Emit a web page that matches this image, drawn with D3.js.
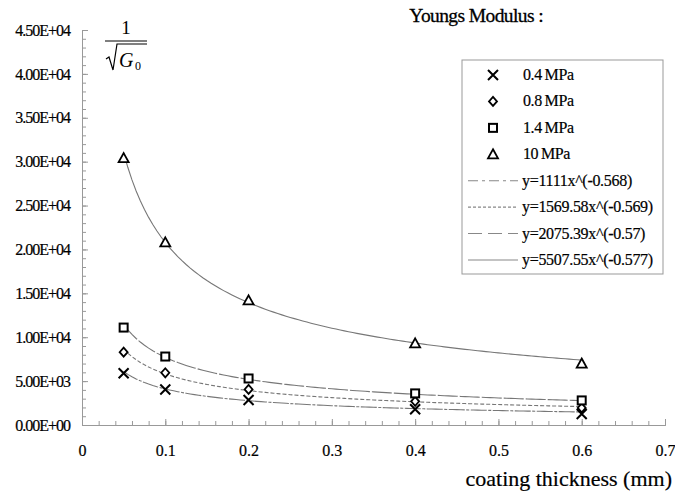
<!DOCTYPE html>
<html>
<head>
<meta charset="utf-8">
<script src="https://cdn.jsdelivr.net/npm/d3@7"></script>
<style>
  body { margin: 0; background: #fff; }
  text { font-family: "Liberation Serif", "Times New Roman", serif; fill: #000; }
</style>
</head>
<body>
<script>
// data
const thickness = [0.05, 0.1, 0.2, 0.4, 0.6];
const mpa04 = [5900, 4050, 2850, 1800, 1250];
const mpa08 = [8300, 5950, 4050, 2700, 1950];
const mpa14 = [11100, 7800, 5300, 3600, 2800];
const mpa10 = [30400, 20800, 14200, 9300, 7000];

const seriesNames = ['0.4 MPa', '0.8 MPa', '1.4 MPa', '10 MPa'];
const fitLabels = ['y=1111x^(-0.568)', 'y=1569.58x^(-0.569)', 'y=2075.39x^(-0.57)', 'y=5507.55x^(-0.577)'];
// power trendline coefficients as printed in the legend
const fitA = [1111, 1569.58, 2075.39, 5507.55];
const fitB = [-0.568, -0.569, -0.57, -0.577];

const xTickValues = [0, 0.1, 0.2, 0.3, 0.4, 0.5, 0.6, 0.7];
const xTickLabels = ['0', '0.1', '0.2', '0.3', '0.4', '0.5', '0.6', '0.7'];
const yTickValues = [0, 5000, 10000, 15000, 20000, 25000, 30000, 35000, 40000, 45000];

let width = 675, height = 492;

let svg = d3.select('body').append('svg')
    .attr('width', width)
    .attr('height', height);

let x = d3.scaleLinear().domain([0, 0.7]).range([82, 665]);
let y = d3.scaleLinear().domain([0, 45000]).range([425, 30]);

const axisColor = '#999';

// y axis: minor ticks, major ticks, labels
svg.append('g')
    .attr('transform', `translate(${x(0)},0)`)
    .call(d3.axisRight(y).tickValues(d3.range(0, 45001, 1000)).tickSize(4).tickFormat(''));
svg.append('g')
    .attr('transform', `translate(${x(0)},0)`)
    .call(d3.axisRight(y).tickValues(yTickValues).tickSize(6).tickFormat(''));
let yLabels = svg.append('g')
    .attr('transform', `translate(${x(0)},0)`)
    .call(d3.axisLeft(y).tickValues(yTickValues).tickSize(0).tickPadding(12)
        .tickFormat(d => {
            let s = d.toExponential(2).toUpperCase();
            return s.replace(/E([+-])(\d)$/, 'E$10$2');
        }));

// x axis
svg.append('g')
    .attr('transform', `translate(0,${y(0)})`)
    .call(d3.axisTop(x).tickValues(d3.range(0, 36).map(i => i * 0.02)).tickSize(4).tickFormat(''));
svg.append('g')
    .attr('transform', `translate(0,${y(0)})`)
    .call(d3.axisTop(x).tickValues(xTickValues).tickSize(6).tickFormat(''));
let xLabels = svg.append('g')
    .attr('transform', `translate(0,${y(0)})`)
    .call(d3.axisBottom(x).tickValues(xTickValues).tickSize(0).tickPadding(20)
        .tickFormat((d, i) => xTickLabels[i]));

svg.selectAll('.domain').attr('stroke', axisColor);
svg.selectAll('.tick line').attr('stroke', axisColor);
yLabels.select('.domain').remove();
xLabels.select('.domain').remove();

yLabels.selectAll('text')
    .attr('font-family', 'Liberation Serif')
    .attr('font-size', '16px')
    .attr('letter-spacing', '-1px')
    .attr('stroke', '#000').attr('stroke-width', 0.2)
    .attr('fill', '#000');
xLabels.selectAll('text')
    .attr('font-family', 'Liberation Serif')
    .attr('font-size', '16px')
    .attr('stroke', '#000').attr('stroke-width', 0.2)
    .attr('fill', '#000');

// trend curves (dashes look almost solid in the plot, clearer in the legend)
const plotDashes = ['16,1.5,3,1.5', '4,2', '20,2', null];
const legendDashes = ['10,4,3,4', '3,2', '14,6', null];
let line = d3.line().x(d => x(d[0])).y(d => y(d[1]));
let curveX = d3.range(0, 111).map(i => 0.05 + i * 0.005);
fitA.forEach((a, k) => {
    let pts = curveX.map(t => [t, a * Math.pow(t, fitB[k])]);
    svg.append('path')
        .attr('d', line(pts))
        .attr('fill', 'none')
        .attr('stroke', '#777')
        .attr('stroke-width', 1.1)
        .attr('stroke-dasharray', plotDashes[k]);
});

// markers
function drawMarker(g, kind) {
    if (kind === 0) {
        g.append('path').attr('d', 'M-5,-5L5,5M-5,5L5,-5')
            .attr('stroke', '#000').attr('stroke-width', 2).attr('fill', 'none');
    } else if (kind === 1) {
        g.append('path').attr('d', 'M0,-4.5L4,0L0,4.5L-4,0Z')
            .attr('stroke', '#000').attr('stroke-width', 1.8).attr('fill', '#fff');
    } else if (kind === 2) {
        g.append('rect').attr('x', -4).attr('y', -4).attr('width', 8).attr('height', 8)
            .attr('stroke', '#000').attr('stroke-width', 2).attr('fill', '#fff');
    } else {
        g.append('path').attr('d', 'M0,-5L5,4L-5,4Z')
            .attr('stroke', '#000').attr('stroke-width', 1.8).attr('fill', '#fff');
    }
}

[mpa04, mpa08, mpa14, mpa10].forEach((vals, k) => {
    svg.selectAll(null)
        .data(vals)
        .enter().append('g')
        .attr('transform', (d, i) => `translate(${x(thickness[i])},${y(d)})`)
        .each(function () { drawMarker(d3.select(this), k); });
});

// legend
let legend = svg.append('g');
legend.append('rect')
    .attr('x', 462).attr('y', 60).attr('width', 201).attr('height', 214)
    .attr('fill', '#fff').attr('stroke', '#999').attr('stroke-width', 1);

let rowY = d3.scaleLinear().domain([0, 7]).range([75, 260]);
seriesNames.forEach((name, k) => {
    let g = legend.append('g').attr('transform', `translate(493,${rowY(k)})`);
    drawMarker(g, k);
    legend.append('text')
        .attr('x', 523).attr('y', rowY(k) + 5)
        .attr('font-size', '16px')
        .attr('letter-spacing', '-0.4px')
        .attr('stroke', '#000').attr('stroke-width', 0.2)
        .text(name.replace(' ', '\u2009'));
});
fitLabels.forEach((lab, k) => {
    let yy = rowY(k + 4);
    legend.append('line')
        .attr('x1', 468).attr('x2', 518).attr('y1', yy).attr('y2', yy)
        .attr('stroke', '#888').attr('stroke-width', 1.1)
        .attr('stroke-dasharray', legendDashes[k]);
    legend.append('text')
        .attr('x', 522).attr('y', yy + 5)
        .attr('font-size', '16px')
        .attr('letter-spacing', '-0.3px')
        .attr('stroke', '#000').attr('stroke-width', 0.2)
        .text(lab);
});

// titles
svg.append('text')
    .attr('x', 543).attr('y', 22)
    .attr('text-anchor', 'end')
    .attr('font-size', '19.5px')
    .attr('letter-spacing', '-0.6px')
    .attr('stroke', '#000').attr('stroke-width', 0.3)
    .text('Youngs Modulus :');

svg.append('text')
    .attr('x', 672).attr('y', 486)
    .attr('text-anchor', 'end')
    .attr('font-size', '22px')
    .attr('stroke', '#000').attr('stroke-width', 0.2)
    .text('coating thickness (mm)');

// y label: 1 / sqrt(G0)
let frac = svg.append('g');
frac.append('text')
    .attr('x', 126).attr('y', 34)
    .attr('text-anchor', 'middle')
    .attr('font-size', '19px')
    .text('1');
frac.append('line')
    .attr('x1', 105).attr('x2', 147).attr('y1', 41).attr('y2', 41)
    .attr('stroke', '#000').attr('stroke-width', 1.2);
frac.append('path')
    .attr('d', 'M106,59L109,57L113,70L117,44L147,44')
    .attr('fill', 'none').attr('stroke', '#000').attr('stroke-width', 1.2);
frac.append('text')
    .attr('x', 119).attr('y', 67)
    .attr('font-size', '20px')
    .attr('font-style', 'italic')
    .text('G');
frac.append('text')
    .attr('x', 135).attr('y', 70)
    .attr('font-size', '12px')
    .text('0');
</script>
</body>
</html>
